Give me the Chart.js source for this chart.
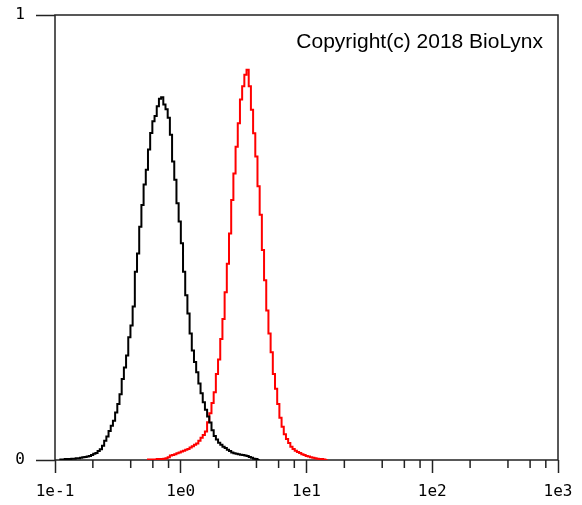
<!DOCTYPE html>
<html>
<head>
<meta charset="utf-8">
<script src="https://cdn.jsdelivr.net/npm/chart.js@4.4.1/dist/chart.umd.min.js"></script>
<style>
html,body{margin:0;padding:0;background:#fff;}
#wrap{width:582px;height:505px;position:relative;}
</style>
</head>
<body>
<div id="wrap"><canvas id="histChart"></canvas></div>
<script>
// Histogram bins, equal width on the log axis (width in decades)
const binDecades = 0.01742;

// black histogram: left edge of first bin, then bin heights (0..1)
const blackStart = 0.1103;
const blackCounts = [
0, 0.001, 0.001, 0.002, 0.002, 0.002, 0.003, 0.003, 0.004, 0.004,
0.005, 0.006, 0.007, 0.008, 0.009, 0.011, 0.014, 0.016, 0.020, 0.024,
0.032, 0.043, 0.053, 0.065, 0.077, 0.088, 0.107, 0.126, 0.148, 0.182,
0.208, 0.235, 0.276, 0.302, 0.345, 0.423, 0.464, 0.524, 0.573, 0.619,
0.652, 0.698, 0.735, 0.761, 0.773, 0.795, 0.812, 0.815, 0.799, 0.788,
0.769, 0.731, 0.671, 0.630, 0.577, 0.536, 0.487, 0.423, 0.370, 0.329,
0.284, 0.246, 0.220, 0.197, 0.172, 0.150, 0.130, 0.113, 0.098, 0.084,
0.067, 0.054, 0.046, 0.039, 0.034, 0.030, 0.027, 0.023, 0.020, 0.017,
0.015, 0.014, 0.013, 0.012, 0.011, 0.010, 0.009, 0.007, 0.005, 0.003,
0.002, 0
];

// red histogram
const redStart = 0.5485;
const redCounts = [
0, 0.001, 0.001, 0.001, 0.001, 0.002, 0.002, 0.002, 0.003, 0.004,
0.006, 0.010, 0.011, 0.013, 0.015, 0.017, 0.019, 0.021, 0.023, 0.025,
0.028, 0.031, 0.034, 0.037, 0.043, 0.050, 0.056, 0.064, 0.085, 0.105,
0.128, 0.152, 0.193, 0.226, 0.272, 0.317, 0.377, 0.441, 0.509, 0.584,
0.644, 0.704, 0.757, 0.810, 0.840, 0.866, 0.877, 0.840, 0.787, 0.734,
0.682, 0.615, 0.551, 0.472, 0.404, 0.336, 0.284, 0.242, 0.193, 0.160,
0.126, 0.095, 0.075, 0.058, 0.047, 0.038, 0.030, 0.025, 0.021, 0.018,
0.016, 0.013, 0.011, 0.009, 0.008, 0.006, 0.005, 0.004, 0.003, 0.002,
0.002, 0.001, 0
];

// axes
const xDecades = [0.1, 1, 10, 100, 1000];
const xLabels = ["1e-1", "1e0", "1e1", "1e2", "1e3"];
const minorSteps = [2, 4, 6, 8];
const yTicks = [0, 1];
const copyright = "Copyright(c) 2018 BioLynx";

const tickFont = {family: "'DejaVu Sans Mono', monospace", size: 16};


function toPoints(start, counts) {
  return counts.map((c, i) => ({x: start * Math.pow(10, i * binDecades), y: c}));
}


// box around the plot, minor ticks and the copyright note
const framePlugin = {
  id: "frame",
  beforeDatasetsDraw(chart) {
    const ctx = chart.ctx;
    const a = chart.chartArea;
    const x = chart.scales.x;
    ctx.save();
    ctx.strokeStyle = "#222";
    ctx.lineWidth = 1.5;
    ctx.strokeRect(a.left, a.top, a.right - a.left, a.bottom - a.top);

    ctx.beginPath();
    xDecades.slice(0, -1).forEach(d => {
      minorSteps.forEach(m => {
        const px = x.getPixelForValue(d * m);
        ctx.moveTo(px, a.bottom);
        ctx.lineTo(px, a.bottom + 8);
      });
    });
    ctx.stroke();

    ctx.font = "21px 'Liberation Sans', Arial, sans-serif";
    ctx.fillStyle = "#000";
    ctx.textAlign = "right";
    ctx.textBaseline = "alphabetic";
    ctx.fillText(copyright, a.right - 15, a.top + 33);
    ctx.restore();
  }
};


new Chart(document.getElementById("histChart"), {
  type: "line",
  data: {
    datasets: [
      {
        data: toPoints(blackStart, blackCounts),
        borderColor: "#000",
        borderWidth: 2,
        pointRadius: 0,
        stepped: "after"
      },
      {
        data: toPoints(redStart, redCounts),
        borderColor: "#ff0000",
        borderWidth: 2,
        pointRadius: 0,
        stepped: "after"
      }
    ]
  },
  options: {
    responsive: true,
    maintainAspectRatio: false,
    animation: false,
    events: [],
    layout: {padding: {left: 0, top: 15, right: 24, bottom: 0}},
    plugins: {legend: {display: false}, tooltip: {enabled: false}},
    scales: {
      x: {
        type: "logarithmic",
        min: 0.1,
        max: 1000,
        afterBuildTicks: s => { s.ticks = xDecades.map(v => ({value: v})); },
        ticks: {
          callback: (v, i) => xLabels[i],
          autoSkip: false,
          maxRotation: 0,
          padding: 9,
          color: "#000",
          font: tickFont
        },
        grid: {drawOnChartArea: false, tickLength: 13, tickWidth: 1.5, tickColor: "#222"},
        border: {display: false},
        afterFit: s => { s.height = 45; }
      },
      y: {
        min: 0,
        max: 1,
        afterBuildTicks: s => { s.ticks = yTicks.map(v => ({value: v})); },
        ticks: {
          callback: v => String(v),
          padding: 11,
          color: "#000",
          font: tickFont
        },
        grid: {drawOnChartArea: false, tickLength: 19, tickWidth: 1.5, tickColor: "#222"},
        border: {display: false},
        afterFit: s => {
          s.width = 55;
          // labels may stick out of the plot box, as in the original
          s.paddingTop = 0;
          s.paddingBottom = 0;
        }
      }
    }
  },
  plugins: [framePlugin]
});
</script>
</body>
</html>
